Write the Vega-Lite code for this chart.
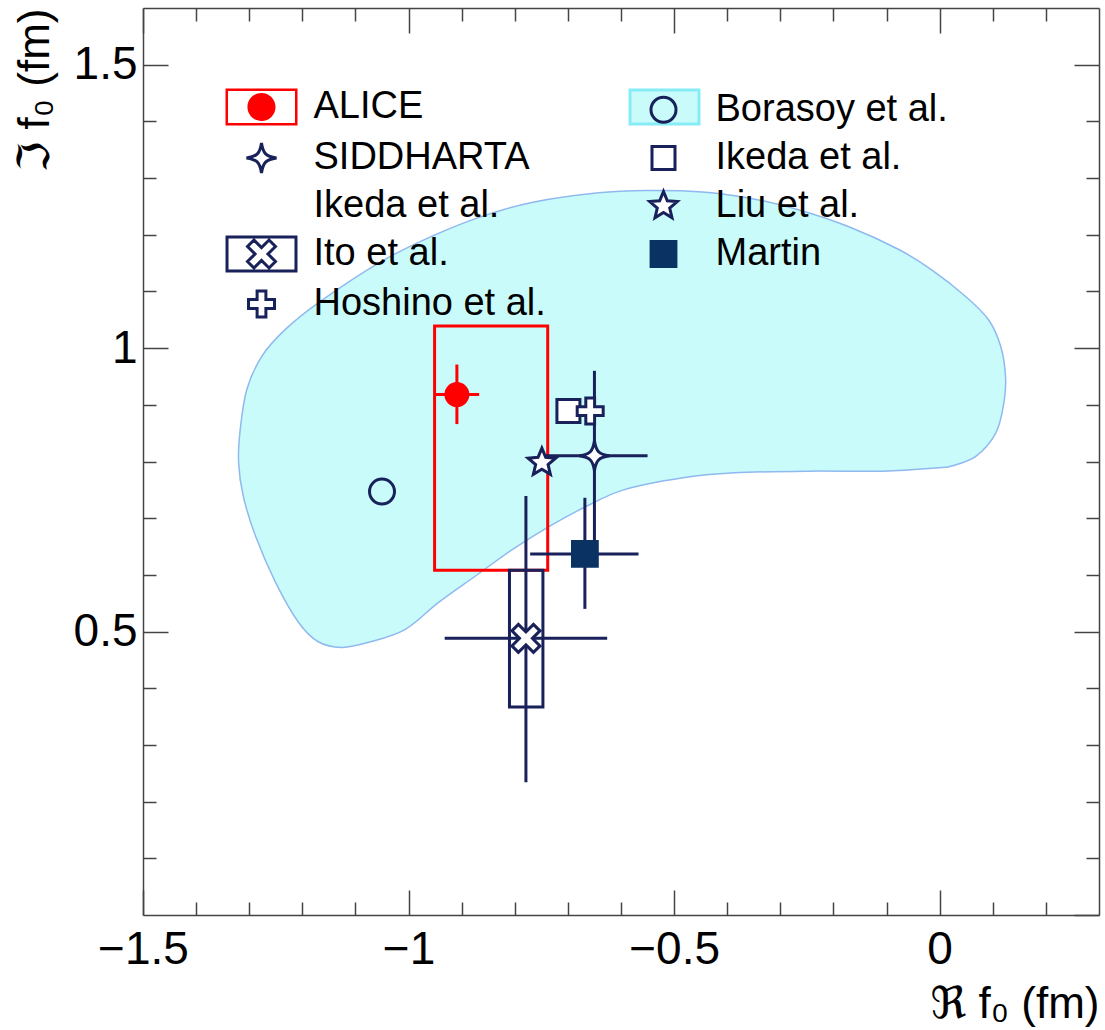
{
  "$schema": "https://vega.github.io/schema/vega-lite/v6.json",
  "width": 956,
  "height": 907,
  "autosize": {"type": "none"},
  "padding": {"left": 143, "top": 8, "right": 6, "bottom": 115},
  "background": "white",
  "config": {"view": {"stroke": null}, "axis": {"grid": false}},
  "datasets": {
    "pts": [
      {"name": "ALICE", "x": -0.909, "y": 0.918, "xmin": -0.949, "xmax": -0.867, "ymin": 0.866, "ymax": 0.971, "sxmin": -0.951, "sxmax": -0.738, "symin": 0.608, "symax": 1.039},
      {"name": "SIDDHARTA", "x": -0.65, "y": 0.81, "xmin": -0.75, "xmax": -0.55, "ymin": 0.66, "ymax": 0.96},
      {"name": "Ito et al.", "x": -0.779, "y": 0.488, "xmin": -0.932, "xmax": -0.626, "ymin": 0.234, "ymax": 0.739, "sxmin": -0.81, "sxmax": -0.747, "symin": 0.367, "symax": 0.608},
      {"name": "Martin", "x": -0.668, "y": 0.637, "xmin": -0.771, "xmax": -0.567, "ymin": 0.54, "ymax": 0.736},
      {"name": "Borasoy et al.", "x": -1.05, "y": 0.747},
      {"name": "Ikeda et al.", "x": -0.699, "y": 0.889},
      {"name": "Hoshino et al.", "x": -0.658, "y": 0.889},
      {"name": "Liu et al.", "x": -0.749, "y": 0.798}
    ],
    "blob": [
      {"i": 1, "x": -1.32, "y": 0.798},
      {"i": 2, "x": -1.317, "y": 0.856},
      {"i": 3, "x": -1.3045, "y": 0.927},
      {"i": 4, "x": -1.276, "y": 0.986},
      {"i": 5, "x": -1.232, "y": 1.033},
      {"i": 6, "x": -1.17, "y": 1.08},
      {"i": 7, "x": -1.051, "y": 1.153},
      {"i": 8, "x": -0.957, "y": 1.197},
      {"i": 9, "x": -0.863, "y": 1.232},
      {"i": 10, "x": -0.768, "y": 1.257},
      {"i": 11, "x": -0.642, "y": 1.274},
      {"i": 12, "x": -0.548, "y": 1.278},
      {"i": 13, "x": -0.454, "y": 1.276},
      {"i": 14, "x": -0.36, "y": 1.265},
      {"i": 15, "x": -0.266, "y": 1.244},
      {"i": 16, "x": -0.171, "y": 1.214},
      {"i": 17, "x": -0.077, "y": 1.174},
      {"i": 18, "x": -0.015, "y": 1.138},
      {"i": 19, "x": 0.049, "y": 1.091},
      {"i": 20, "x": 0.092, "y": 1.05},
      {"i": 21, "x": 0.115, "y": 1.003},
      {"i": 22, "x": 0.124, "y": 0.95},
      {"i": 23, "x": 0.121, "y": 0.904},
      {"i": 24, "x": 0.106, "y": 0.851},
      {"i": 25, "x": 0.068, "y": 0.809},
      {"i": 26, "x": 0.022, "y": 0.792},
      {"i": 27, "x": -0.002, "y": 0.789},
      {"i": 28, "x": -0.107, "y": 0.783},
      {"i": 29, "x": -0.246, "y": 0.783},
      {"i": 30, "x": -0.386, "y": 0.78},
      {"i": 31, "x": -0.486, "y": 0.771},
      {"i": 32, "x": -0.595, "y": 0.75},
      {"i": 33, "x": -0.665, "y": 0.721},
      {"i": 34, "x": -0.734, "y": 0.686},
      {"i": 35, "x": -0.804, "y": 0.645},
      {"i": 36, "x": -0.874, "y": 0.598},
      {"i": 37, "x": -0.944, "y": 0.551},
      {"i": 38, "x": -1.006, "y": 0.504},
      {"i": 39, "x": -1.075, "y": 0.481},
      {"i": 40, "x": -1.126, "y": 0.472},
      {"i": 41, "x": -1.17, "y": 0.482},
      {"i": 42, "x": -1.207, "y": 0.516},
      {"i": 43, "x": -1.25, "y": 0.586},
      {"i": 44, "x": -1.288, "y": 0.668},
      {"i": 45, "x": -1.311, "y": 0.738}
    ]
  },
  "layer": [
    {
      "data": {"name": "blob"},
      "mark": {"type": "line", "interpolate": "cardinal-closed", "fill": "#c9fbfb", "stroke": "#8fb9ef", "strokeWidth": 1.5},
      "encoding": {
        "x": {"field": "x", "type": "quantitative", "scale": {"domain": [-1.5, 0.3], "nice": false, "zero": false},
          "axis": {"orient": "bottom", "values": [-1.5, -1, -0.5, 0], "format": "~g", "tickSize": -25, "tickWidth": 1.5, "tickColor": "#444", "domainColor": "#444", "domainWidth": 1.5, "labelFont": "Liberation Sans", "labelFontSize": 46, "labelColor": "#000", "labelPadding": 37, "labelFlush": false, "labelOverlap": false, "labelBound": false, "grid": false, "title": "ℜ f₀ (fm)", "titleFont": "Liberation Sans, DejaVu Sans", "titleFontSize": 44, "titleFontWeight": "normal", "titleColor": "#000", "titleAnchor": "end", "titlePadding": 10, "zindex": 1}},
        "y": {"field": "y", "type": "quantitative", "scale": {"domain": [0, 1.6], "nice": false, "zero": false},
          "axis": {"orient": "left", "values": [0.5, 1, 1.5], "format": "~g", "tickSize": -25, "tickWidth": 1.5, "tickColor": "#444", "domainColor": "#444", "domainWidth": 1.5, "labelFont": "Liberation Sans", "labelFontSize": 46, "labelColor": "#000", "labelPadding": 31, "labelFlush": false, "labelOverlap": false, "labelBound": false, "grid": false, "title": "ℑ f₀ (fm)", "titleFont": "Liberation Sans, DejaVu Sans", "titleFontSize": 44, "titleFontWeight": "normal", "titleColor": "#000", "titleAnchor": "end", "titlePadding": 16, "zindex": 1}},
        "order": {"field": "i", "type": "quantitative"}
      }
    },
    {
      "data": {"name": "pts"},
      "transform": [{"filter": "isValid(datum.sxmin)"}],
      "mark": {"type": "rect", "fill": "transparent", "strokeWidth": 3},
      "encoding": {
        "x": {"field": "sxmin", "type": "quantitative", "scale": {"domain": [-1.5, 0.3], "nice": false, "zero": false},
          "axis": {"orient": "bottom", "values": [-1.4, -1.3, -1.2, -1.1, -0.9, -0.8, -0.7, -0.6, -0.4, -0.3, -0.2, -0.1, 0.1, 0.2], "tickSize": -13, "tickWidth": 1.5, "tickColor": "#444", "domain": false, "labels": false, "grid": false, "title": null, "zindex": 1}},
        "x2": {"field": "sxmax"},
        "y": {"field": "symin", "type": "quantitative", "scale": {"domain": [0, 1.6], "nice": false, "zero": false},
          "axis": {"orient": "left", "values": [0.1, 0.2, 0.3, 0.4, 0.6, 0.7, 0.8, 0.9, 1.1, 1.2, 1.3, 1.4], "tickSize": -13, "tickWidth": 1.5, "tickColor": "#444", "domain": false, "labels": false, "grid": false, "title": null, "zindex": 1}},
        "y2": {"field": "symax"},
        "stroke": {"field": "name", "type": "nominal", "scale": {"domain": ["ALICE", "Ito et al."], "range": ["#ff0000", "#18215a"]}, "legend": null}
      }
    },
    {
      "data": {"name": "pts"},
      "transform": [{"filter": "isValid(datum.xmin)"}],
      "mark": {"type": "rule", "strokeWidth": 3},
      "encoding": {
        "x": {"field": "xmin", "type": "quantitative", "scale": {"domain": [-1.5, 0.3], "nice": false, "zero": false},
          "axis": {"orient": "top", "values": [-1.5, -1, -0.5, 0], "tickSize": -25, "tickWidth": 1.5, "tickColor": "#444", "domainColor": "#444", "domainWidth": 1.5, "labels": false, "grid": false, "title": null, "zindex": 1}},
        "x2": {"field": "xmax"},
        "y": {"field": "y", "type": "quantitative", "scale": {"domain": [0, 1.6], "nice": false, "zero": false},
          "axis": {"orient": "right", "values": [0, 0.5, 1, 1.5], "tickSize": -25, "tickWidth": 1.5, "tickColor": "#444", "domainColor": "#444", "domainWidth": 1.5, "labels": false, "grid": false, "title": null, "zindex": 1}},
        "stroke": {"field": "name", "type": "nominal", "scale": {"domain": ["ALICE", "SIDDHARTA", "Ito et al.", "Martin"], "range": ["#ff0000", "#18215a", "#18215a", "#18215a"]}, "legend": null}
      }
    },
    {
      "data": {"name": "pts"},
      "transform": [{"filter": "isValid(datum.ymin)"}],
      "mark": {"type": "rule", "strokeWidth": 3},
      "encoding": {
        "x": {"field": "x", "type": "quantitative", "scale": {"domain": [-1.5, 0.3], "nice": false, "zero": false},
          "axis": {"orient": "top", "values": [-1.4, -1.3, -1.2, -1.1, -0.9, -0.8, -0.7, -0.6, -0.4, -0.3, -0.2, -0.1, 0.1, 0.2], "tickSize": -13, "tickWidth": 1.5, "tickColor": "#444", "domain": false, "labels": false, "grid": false, "title": null, "zindex": 1}},
        "y": {"field": "ymin", "type": "quantitative", "scale": {"domain": [0, 1.6], "nice": false, "zero": false},
          "axis": {"orient": "right", "values": [0.1, 0.2, 0.3, 0.4, 0.6, 0.7, 0.8, 0.9, 1.1, 1.2, 1.3, 1.4], "tickSize": -13, "tickWidth": 1.5, "tickColor": "#444", "domain": false, "labels": false, "grid": false, "title": null, "zindex": 1}},
        "y2": {"field": "ymax"},
        "stroke": {"field": "name", "type": "nominal", "scale": {"domain": ["ALICE", "SIDDHARTA", "Ito et al.", "Martin"], "range": ["#ff0000", "#18215a", "#18215a", "#18215a"]}, "legend": null}
      }
    },
    {
      "data": {"name": "pts"},
      "mark": {"type": "point", "size": 1600, "strokeWidth": 3, "opacity": 1, "filled": true},
      "encoding": {
        "x": {"field": "x", "type": "quantitative", "scale": {"domain": [-1.5, 0.3], "nice": false, "zero": false}, "axis": null},
        "y": {"field": "y", "type": "quantitative", "scale": {"domain": [0, 1.6], "nice": false, "zero": false}, "axis": null},
        "shape": {"field": "name", "type": "nominal", "legend": null, "scale": {
          "domain": ["ALICE", "Borasoy et al.", "SIDDHARTA", "Ikeda et al.", "Liu et al.", "Ito et al.", "Martin", "Hoshino et al."],
          "range": [
            "M0.55,0A0.55,0.55 0 1,1 -0.55,0A0.55,0.55 0 1,1 0.55,0Z",
            "M0.625,0A0.625,0.625 0 1,1 -0.625,0A0.625,0.625 0 1,1 0.625,0Z",
            "M0,-0.75C0.08,-0.22 0.22,-0.08 0.75,0C0.22,0.08 0.08,0.22 0,0.75C-0.08,0.22 -0.22,0.08 -0.75,0C-0.22,-0.08 -0.08,-0.22 0,-0.75Z",
            "M-0.575,-0.575H0.575V0.575H-0.575Z",
            "M0,-0.725L0.1916,-0.2637L0.6895,-0.224L0.31,0.1007L0.426,0.5865L0,0.326L-0.426,0.5865L-0.31,0.1007L-0.6895,-0.224L-0.1916,-0.2637Z",
            "M0.7,-0.377L0.323,0L0.7,0.377L0.377,0.7L0,0.323L-0.377,0.7L-0.7,0.377L-0.323,0L-0.7,-0.377L-0.377,-0.7L0,-0.323L0.377,-0.7Z",
            "M-0.62,-0.62H0.62V0.62H-0.62Z",
            "M-0.22,-0.65H0.22V-0.22H0.65V0.22H0.22V0.65H-0.22V0.22H-0.65V-0.22H-0.22Z"
          ]}},
        "fill": {"field": "name", "type": "nominal", "legend": null, "scale": {
          "domain": ["ALICE", "Borasoy et al.", "SIDDHARTA", "Ikeda et al.", "Liu et al.", "Ito et al.", "Martin", "Hoshino et al."],
          "range": ["#ff0000", "transparent", "#ffffff", "#ffffff", "#ffffff", "#ffffff", "#0a3263", "#ffffff"]}},
        "stroke": {"field": "name", "type": "nominal", "legend": null, "scale": {
          "domain": ["ALICE", "Borasoy et al.", "SIDDHARTA", "Ikeda et al.", "Liu et al.", "Ito et al.", "Martin", "Hoshino et al."],
          "range": ["#ff0000", "#18215a", "#18215a", "#18215a", "#18215a", "#18215a", "#0a3263", "#18215a"]}}
      }
    },
    {
      "data": {"name": "pts"},
      "mark": {"type": "point", "size": 1, "opacity": 0, "filled": true},
      "encoding": {
        "x": {"field": "x", "type": "quantitative", "scale": {"domain": [-1.5, 0.3], "nice": false, "zero": false}, "axis": null},
        "y": {"field": "y", "type": "quantitative", "scale": {"domain": [0, 1.6], "nice": false, "zero": false}, "axis": null},
        "shape": {"field": "name", "type": "nominal",
          "scale": {"domain": ["Borasoy et al."], "range": ["M-1.724,-0.85H1.724V0.85H-1.724Z"]},
          "legend": {"orient": "none", "legendX": 484, "legendY": 77.5, "columns": 1, "symbolSize": 1600, "symbolOffset": 16, "symbolStrokeWidth": 3, "symbolOpacity": 1, "symbolFillColor": "#ffffff", "symbolStrokeColor": "#000000", "labelFont": "Liberation Sans", "labelFontSize": 38, "labelOffset": 30.5, "labelExpr": "''", "title": null, "zindex": 1, "padding": 0}},
        "fill": {"field": "name", "type": "nominal",
          "scale": {"domain": ["Borasoy et al."], "range": ["#c9fbfb"]},
          "legend": {"orient": "none", "legendX": 484, "legendY": 77.5, "columns": 1, "symbolSize": 1600, "symbolOffset": 16, "symbolStrokeWidth": 3, "symbolOpacity": 1, "symbolFillColor": "#ffffff", "symbolStrokeColor": "#000000", "labelFont": "Liberation Sans", "labelFontSize": 38, "labelOffset": 30.5, "labelExpr": "''", "title": null, "zindex": 1, "padding": 0}},
        "stroke": {"field": "name", "type": "nominal",
          "scale": {"domain": ["Borasoy et al."], "range": ["#86ecf5"]},
          "legend": {"orient": "none", "legendX": 484, "legendY": 77.5, "columns": 1, "symbolSize": 1600, "symbolOffset": 16, "symbolStrokeWidth": 3, "symbolOpacity": 1, "symbolFillColor": "#ffffff", "symbolStrokeColor": "#000000", "labelFont": "Liberation Sans", "labelFontSize": 38, "labelOffset": 30.5, "labelExpr": "''", "title": null, "zindex": 1, "padding": 0}}
      }
    },
    {
      "data": {"name": "pts"},
      "mark": {"type": "point", "size": 1, "opacity": 0, "filled": true},
      "encoding": {
        "x": {"field": "x", "type": "quantitative", "scale": {"domain": [-1.5, 0.3], "nice": false, "zero": false}, "axis": null},
        "y": {"field": "y", "type": "quantitative", "scale": {"domain": [0, 1.6], "nice": false, "zero": false}, "axis": null},
        "shape": {"field": "name", "type": "nominal",
          "scale": {"domain": ["ALICE", "SIDDHARTA", "SIDDHARTA (Ikeda et al.)", "Ito et al.", "Hoshino et al.", "Borasoy et al.", "Ikeda et al.", "Liu et al.", "Martin"],
            "range": [
              "M-1.8,-0.925H1.8V0.925H-1.8ZM-1.674,-0.8V0.8H1.674V-0.8ZM0.702,0A0.702,0.702 0 1,1 -0.702,0A0.702,0.702 0 1,1 0.702,0Z",
              "M0,-0.75C0.08,-0.22 0.22,-0.08 0.75,0C0.22,0.08 0.08,0.22 0,0.75C-0.08,0.22 -0.22,0.08 -0.75,0C-0.22,-0.08 -0.08,-0.22 0,-0.75Z",
              "M0,0",
              "M-1.724,-0.85H1.724V0.85H-1.724ZM0.7,-0.377L0.323,0L0.7,0.377L0.377,0.7L0,0.323L-0.377,0.7L-0.7,0.377L-0.323,0L-0.7,-0.377L-0.377,-0.7L0,-0.323L0.377,-0.7Z",
              "M-0.22,-0.65H0.22V-0.22H0.65V0.22H0.22V0.65H-0.22V0.22H-0.65V-0.22H-0.22Z",
              "M0.625,0A0.625,0.625 0 1,1 -0.625,0A0.625,0.625 0 1,1 0.625,0Z",
              "M-0.575,-0.575H0.575V0.575H-0.575Z",
              "M0,-0.725L0.1916,-0.2637L0.6895,-0.224L0.31,0.1007L0.426,0.5865L0,0.326L-0.426,0.5865L-0.31,0.1007L-0.6895,-0.224L-0.1916,-0.2637Z",
              "M-0.62,-0.62H0.62V0.62H-0.62Z"
            ]},
          "legend": {"orient": "none", "legendX": 81, "legendY": 77.5, "columns": 2, "columnPadding": 80, "rowPadding": 5, "symbolSize": 1600, "symbolOffset": 16, "symbolStrokeWidth": 3, "symbolOpacity": 1, "symbolFillColor": "#ffffff", "symbolStrokeColor": "#000000", "labelFont": "Liberation Sans", "labelFontSize": 38, "labelColor": "#000000", "labelOffset": 30.5, "labelLimit": 500, "labelExpr": "datum.label == 'SIDDHARTA (Ikeda et al.)' ? 'Ikeda et al.' : datum.label", "title": null, "zindex": 2, "padding": 0}},
        "fill": {"field": "name", "type": "nominal",
          "scale": {"domain": ["ALICE", "SIDDHARTA", "SIDDHARTA (Ikeda et al.)", "Ito et al.", "Hoshino et al.", "Borasoy et al.", "Ikeda et al.", "Liu et al.", "Martin"],
            "range": ["#ff0000", "#ffffff", "transparent", "#ffffff", "#ffffff", "transparent", "#ffffff", "#ffffff", "#0a3263"]},
          "legend": {"orient": "none", "legendX": 81, "legendY": 77.5, "columns": 2, "columnPadding": 80, "rowPadding": 5, "symbolSize": 1600, "symbolOffset": 16, "symbolStrokeWidth": 3, "symbolOpacity": 1, "symbolFillColor": "#ffffff", "symbolStrokeColor": "#000000", "labelFont": "Liberation Sans", "labelFontSize": 38, "labelColor": "#000000", "labelOffset": 30.5, "labelLimit": 500, "labelExpr": "datum.label == 'SIDDHARTA (Ikeda et al.)' ? 'Ikeda et al.' : datum.label", "title": null, "zindex": 2, "padding": 0}},
        "stroke": {"field": "name", "type": "nominal",
          "scale": {"domain": ["ALICE", "SIDDHARTA", "SIDDHARTA (Ikeda et al.)", "Ito et al.", "Hoshino et al.", "Borasoy et al.", "Ikeda et al.", "Liu et al.", "Martin"],
            "range": ["transparent", "#18215a", "transparent", "#18215a", "#18215a", "#18215a", "#18215a", "#18215a", "#0a3263"]},
          "legend": {"orient": "none", "legendX": 81, "legendY": 77.5, "columns": 2, "columnPadding": 80, "rowPadding": 5, "symbolSize": 1600, "symbolOffset": 16, "symbolStrokeWidth": 3, "symbolOpacity": 1, "symbolFillColor": "#ffffff", "symbolStrokeColor": "#000000", "labelFont": "Liberation Sans", "labelFontSize": 38, "labelColor": "#000000", "labelOffset": 30.5, "labelLimit": 500, "labelExpr": "datum.label == 'SIDDHARTA (Ikeda et al.)' ? 'Ikeda et al.' : datum.label", "title": null, "zindex": 2, "padding": 0}}
      }
    }
  ],
  "resolve": {
    "scale": {"shape": "independent", "fill": "independent", "stroke": "independent"},
    "legend": {"shape": "independent", "fill": "independent", "stroke": "independent"},
    "axis": {"x": "independent", "y": "independent"}
  }
}
